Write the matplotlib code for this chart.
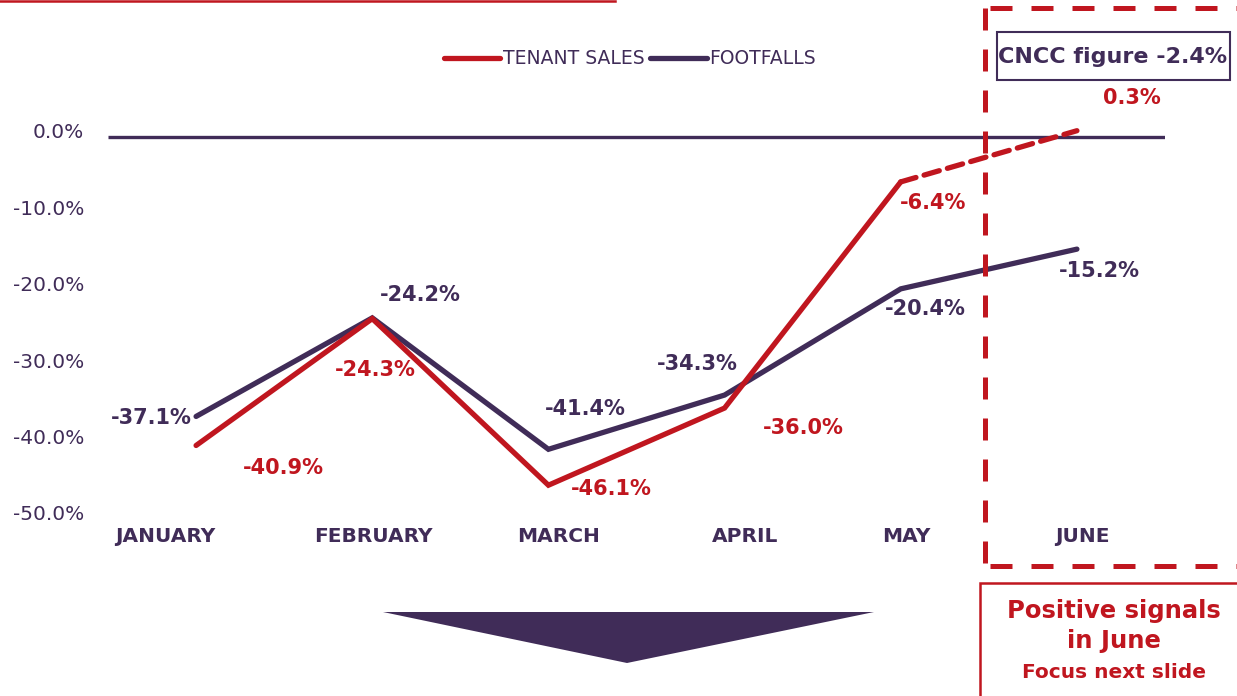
import matplotlib
matplotlib.use("Agg")
import matplotlib.pyplot as plt
from matplotlib.patches import Rectangle, Polygon
from matplotlib.lines import Line2D

plt.rcParams['font.family'] = ['DejaVu Sans']

months = ["JANUARY", "FEBRUARY", "MARCH", "APRIL", "MAY", "JUNE"]
tenant_sales = [-40.9, -24.3, -46.1, -36.0, -6.4, 0.3]
footfalls = [-37.1, -24.2, -41.4, -34.3, -20.4, -15.2]
y_ticks = [0, -10, -20, -30, -40, -50]
cncc_figure = -2.4

RED = "#C0161F"
PURPLE = "#402C58"

W, H = 1237, 696
fig = plt.figure(figsize=(W / 100, H / 100), dpi=100)

# axes placed so that 0% sits at y=133px and -50% at y=515px
ymin, ymax = -52, 5
px_per = (515 - 133) / 50
top_px = 133 - ymax * px_per
bot_px = 133 - ymin * px_per
ax = fig.add_axes([108 / W, (H - bot_px) / H, (1165 - 108) / W, (bot_px - top_px) / H])
ax.set_xlim(-0.5, 5.5)
ax.set_ylim(ymin, ymax)
ax.axis("off")

x = list(range(len(months)))

# zero line (drawn a few px low, as in the original slide)
ax.plot([-0.5, 5.5], [0, 0], color=PURPLE, lw=2.4, solid_capstyle="butt",
        transform=ax.transData + matplotlib.transforms.Affine2D().translate(0, -4))

# footfalls
ax.plot(x, footfalls, color=PURPLE, lw=3.8, solid_capstyle="round",
        solid_joinstyle="miter", label="FOOTFALLS")
# tenant sales: solid up to May, dashed to June
ax.plot(x[:5], tenant_sales[:5], color=RED, lw=3.8, solid_capstyle="round",
        solid_joinstyle="miter", label="TENANT SALES")
ax.plot(x[4:], tenant_sales[4:], color=RED, lw=3.8, dashes=(3.0, 1.6),
        dash_capstyle="round")

# y tick labels
for v in y_ticks:
    ax.annotate("%.1f%%" % v, (-0.5, v), xytext=(-24, 0), textcoords="offset pixels",
                ha="right", va="center", fontsize=14.5, color=PURPLE)

# month labels
month_off = [-31, 1, 10, 21, 6, 5]
for i, m in enumerate(months):
    ax.annotate(m, (i, 0), xycoords=("data", "axes fraction"),
                xytext=(month_off[i], bot_px - 537), textcoords="offset pixels",
                ha="center", va="center", fontsize=14.5, fontweight="bold", color=PURPLE)

# data labels
red_off = [(87, -23), (3, -51), (63, -4), (79, -20), (32, -21), (55, 33)]
pur_off = [(-45, -2), (48, 23), (37, 40), (-27, 31), (25, -20), (22, -22)]
for i in x:
    ax.annotate("%.1f%%" % tenant_sales[i], (i, tenant_sales[i]), xytext=red_off[i],
                textcoords="offset pixels", ha="center", va="center",
                fontsize=15, fontweight="bold", color=RED)
    ax.annotate("%.1f%%" % footfalls[i], (i, footfalls[i]), xytext=pur_off[i],
                textcoords="offset pixels", ha="center", va="center",
                fontsize=15, fontweight="bold", color=PURPLE)

# legend
handles = [Line2D([], [], color=RED, lw=3.8, solid_capstyle="round"),
           Line2D([], [], color=PURPLE, lw=3.8, solid_capstyle="round")]
fig.legend(handles, ["TENANT SALES", "FOOTFALLS"], loc="center",
           bbox_to_anchor=(630 / W, 1 - 59 / H), ncol=2, frameon=False,
           fontsize=13.5, labelcolor=PURPLE, handlelength=3.0, handletextpad=0.15,
           columnspacing=0.3)

# figure-level decorations in pixel coordinates (top-left origin)
def fx(px):
    return px / W

def fy(py):
    return 1 - py / H

# thin red rule at the very top
fig.add_artist(Line2D([fx(0), fx(615)], [fy(1), fy(1)], color=RED, lw=1.8))

# dashed red frame around June
dash = (0, (4.4, 3.8))
fig.add_artist(Line2D([fx(985), fx(985)], [fy(8), fy(566)], color=RED, lw=3.6, linestyle=dash))
fig.add_artist(Line2D([fx(990), fx(1237)], [fy(8), fy(8)], color=RED, lw=3.6, linestyle=dash))
fig.add_artist(Line2D([fx(990), fx(1237)], [fy(566), fy(566)], color=RED, lw=3.6, linestyle=dash))

# CNCC box
fig.add_artist(Rectangle((fx(997), fy(80)), fx(1230) - fx(997), fy(32) - fy(80),
                         transform=fig.transFigure, fill=False, ec=PURPLE, lw=1.5))
fig.text(fx(1113), fy(57), "CNCC figure %.1f%%" % cncc_figure, ha="center", va="center",
         fontsize=16, fontweight="bold", color=PURPLE)

# bottom-right red box
fig.add_artist(Rectangle((fx(980), fy(720)), fx(1260) - fx(980), fy(583) - fy(720),
                         transform=fig.transFigure, fill=False, ec=RED, lw=1.8))
fig.text(fx(1114), fy(611), "Positive signals", ha="center", va="center",
         fontsize=17.5, fontweight="bold", color=RED)
fig.text(fx(1114), fy(641), "in June", ha="center", va="center",
         fontsize=17.5, fontweight="bold", color=RED)
fig.text(fx(1114), fy(673), "Focus next slide", ha="center", va="center",
         fontsize=14.5, fontweight="bold", color=RED)

# downward arrow
fig.add_artist(Polygon([(fx(383), fy(612)), (fx(874), fy(612)), (fx(627), fy(663))],
                       closed=True, transform=fig.transFigure, fc=PURPLE, ec="none"))

fig.savefig("out.png", dpi=100)
